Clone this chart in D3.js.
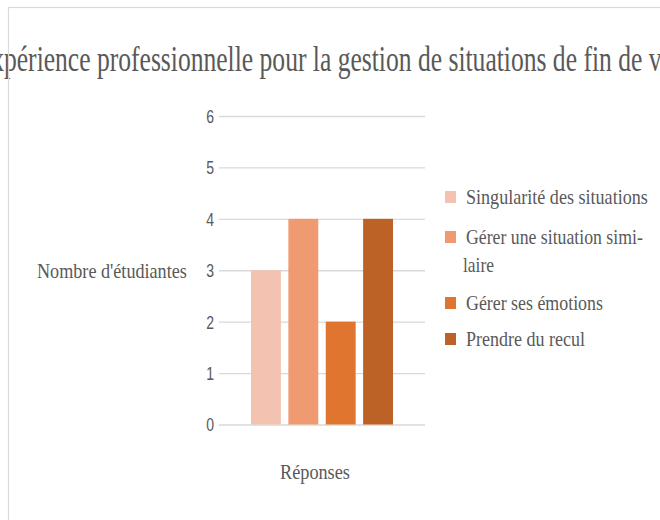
<!DOCTYPE html>
<html><head><meta charset="utf-8">
<script src="https://cdn.jsdelivr.net/npm/d3@7"></script>
<style>
html,body{margin:0;padding:0;background:#fff;overflow:hidden}
text{font-family:"Liberation Serif","Times New Roman",serif;fill:#595959}
.tick text{font-family:"Liberation Sans Narrow","Arial Narrow","Liberation Sans",sans-serif}
</style></head>
<body>
<svg id="c" width="660" height="520"></svg>
<script>
const titleText = "L'expérience professionnelle pour la gestion de situations de fin de vie";
const yTitle = "Nombre d'étudiantes";
const xTitle = "Réponses";
const category = ["Réponses"];
const series = ["Singularité des situations", "Gérer une situation similaire", "Gérer ses émotions", "Prendre du recul"];
const legendLines = [["Singularité des situations"], ["Gérer une situation simi-", "laire"], ["Gérer ses émotions"], ["Prendre du recul"]];
const values = [3, 4, 2, 4];
const yTicks = [0, 1, 2, 3, 4, 5, 6];
const colors = ["#F4C2B0", "#F09A72", "#DF752E", "#BC6227"];

const svg = d3.select("#c");
svg.append("rect").attr("width",660).attr("height",520).attr("fill","#fff");

// helper: draw text of given font size, horizontally scaled to a target width
function fitText(parent, str, x, yb, size, width) {
  const el = parent.append("text").attr("font-size", size).text(str);
  const w = el.node().getComputedTextLength();
  const s = width / w;
  el.attr("transform", `translate(${x},${yb}) scale(${s},1)`);
  return el;
}

// Title
const t = svg.append("text").attr("font-size",35).text(titleText);
const node = t.node();
const p0 = node.getStartPositionOfChar(4).x;
const vIdx = titleText.lastIndexOf("v");
const p1 = node.getStartPositionOfChar(vIdx).x;
const sx = (649 - 4) / (p1 - p0);
t.attr("transform", `translate(${4 - p0*sx},71) scale(${sx},1)`);

const y = d3.scaleLinear().domain([0,6]).range([424.5,116]);
const x0 = d3.scaleBand().domain(category).range([219,425]);
const x1 = d3.scaleBand().domain(series).range([247.25,396.75]).paddingInner(0.2).paddingOuter(0.1);

// gridlines + tick labels
const ax = d3.axisLeft(y).tickValues(yTicks).tickSize(-(x0.range()[1]-x0.range()[0])).tickPadding(6).tickFormat(d3.format("d"));
const g = svg.append("g").attr("class","y axis").attr("transform",`translate(${x0.range()[0]},0)`).call(ax);
g.select(".domain").remove();
g.selectAll(".tick line").attr("stroke","#d9d9d9").attr("stroke-width",1.3);
g.selectAll(".tick text").attr("font-size",18).attr("fill","#595959").attr("dy","0.36em")
  .attr("x",0).attr("transform","translate(-5,0) scale(0.78,1)");

// bars
svg.append("g").selectAll("rect").data(series).join("rect")
  .attr("x", d => x1(d))
  .attr("width", x1.bandwidth())
  .attr("y", (d,i) => y(values[i]))
  .attr("height", (d,i) => y(0) - y(values[i]))
  .attr("fill", (d,i) => colors[i]);

// axis titles
fitText(svg, yTitle, 37, 278, 21, 150);
fitText(svg, xTitle, 280, 479, 21, 70);

// legend
const legY = [204, 244, 310, 346];
const legW = [[182],[177,31],[137],[119]];
const lg = svg.append("g");
series.forEach((s,i) => {
  lg.append("rect").attr("x",445).attr("y",legY[i]-13).attr("width",11).attr("height",12).attr("fill",colors[i]);
  legendLines[i].forEach((ln,j) => {
    fitText(lg, ln, j===0 ? 466 : 463, legY[i] + j*28, 22, legW[i][j]);
  });
});

// chart border
svg.append("rect").attr("x",8.5).attr("y",7.5).attr("width",700).attr("height",600)
  .attr("fill","none").attr("stroke","#d9d9d9").attr("stroke-width",1.2);
</script>
</body></html>
